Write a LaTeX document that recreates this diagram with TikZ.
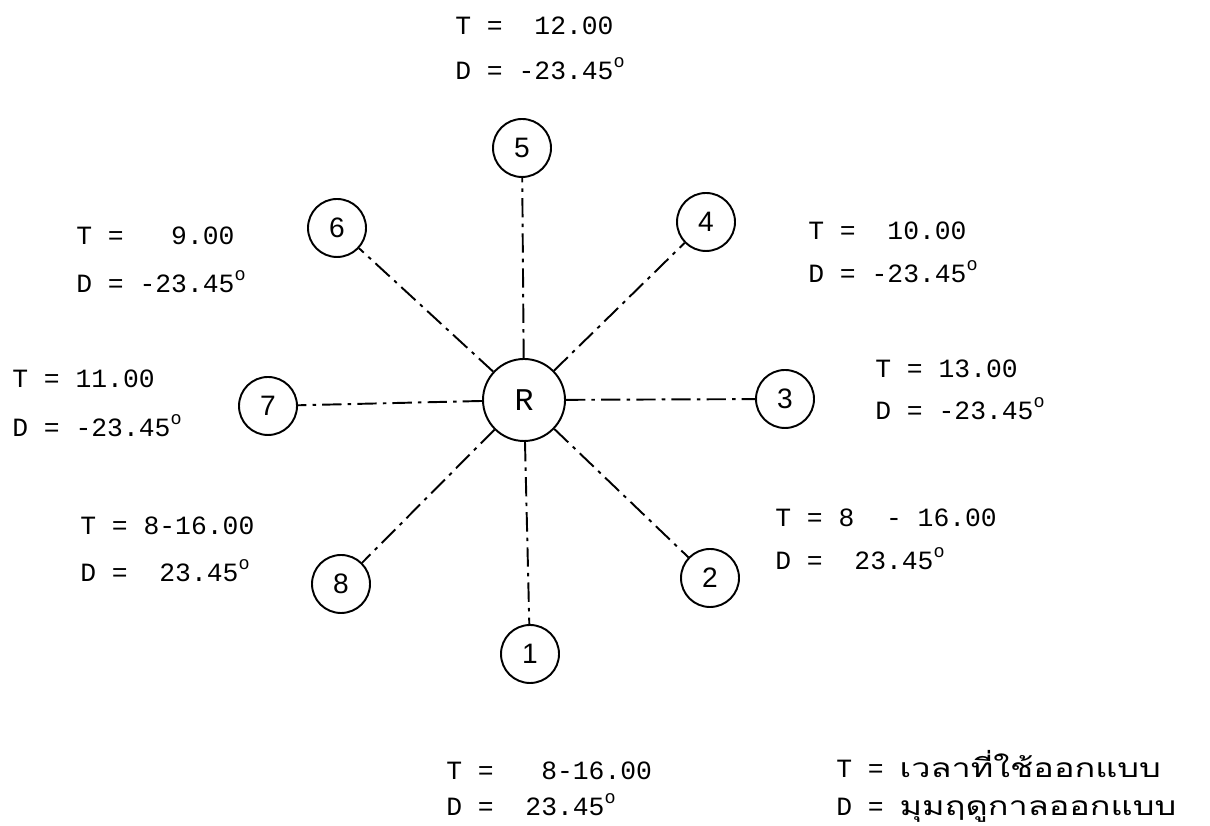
\documentclass[tikz,border=0pt]{standalone}
\usepackage{fontspec}
\setmonofont{Liberation Mono}
\newfontfamily\thaifont[Script=Thai,FakeStretch=1.3]{Loma}
\newfontfamily\numfont{Liberation Sans}
\usetikzlibrary{positioning}
\tikzset{
	stn/.style={draw, circle, line width=1.1pt, minimum size=1.16cm, inner sep=0pt, font=\numfont\fontsize{16}{16}\selectfont},
	hub/.style={stn, minimum size=1.64cm, font=\ttfamily\fontsize{18}{18}\selectfont},
	ray/.style={line width=1.1pt, dash pattern=on 11pt off 3.5pt on 2pt off 3.5pt},
	lbl/.style={anchor=base west, inner sep=0pt, font=\ttfamily\fontsize{15}{15}\selectfont}
}
\newcommand{\dg}{\raisebox{0.25ex}{\textsuperscript{o}}}

\begin{document}
\begin{tikzpicture}
	\useasboundingbox (0,0) rectangle (24.2,16.52);
	
	\node[hub] (R) at (10.48,8.52) {R};
	\node[stn] (n1) at (10.60,3.44) {1};
	\node[stn] (n2) at (14.20,4.96) {2};
	\node[stn] (n3) at (15.70,8.54) {3};
	\node[stn] (n4) at (14.12,12.08) {4};
	\node[stn] (n5) at (10.44,13.56) {5};
	\node[stn] (n6) at (6.74,11.96) {6};
	\node[stn] (n7) at (5.36,8.40) {7};
	\node[stn] (n8) at (6.82,4.84) {8};
	
	\foreach \n in {1,...,8}
		\draw[ray] (R) -- (n\n);
	
	\node[lbl] (t5) at (9.10,15.82) {T =~~12.00};
	\node[lbl] (d5) at (9.10,14.92) {D = -23.45\dg};
	\node[lbl] (t6) at (1.52,11.62) {T =~~~9.00};
	\node[lbl] (d6) at (1.52,10.66) {D = -23.45\dg};
	\node[lbl] (t7) at (0.24,8.76) {T = 11.00};
	\node[lbl] (d7) at (0.24,7.78) {D = -23.45\dg};
	\node[lbl] (t8) at (1.60,5.82) {T = 8-16.00};
	\node[lbl] (d8) at (1.60,4.88) {D =~~23.45\dg};
	\node[lbl] (t4) at (16.16,11.72) {T =~~10.00};
	\node[lbl] (d4) at (16.16,10.86) {D = -23.45\dg};
	\node[lbl] (t3) at (17.50,8.96) {T = 13.00};
	\node[lbl] (d3) at (17.50,8.12) {D = -23.45\dg};
	\node[lbl] (t2) at (15.50,5.98) {T = 8~~- 16.00};
	\node[lbl] (d2) at (15.50,5.12) {D =~~23.45\dg};
	\node[lbl] (t1) at (8.92,0.92) {T =~~~8-16.00};
	\node[lbl] (d1) at (8.92,0.20) {D =~~23.45\dg};
	
	\node[lbl] (tkey) at (16.72,0.96) {T = {\thaifont เวลาที่ใช้ออกแบบ}};
	\node[lbl] (dkey) at (16.72,0.20) {D = {\thaifont มุมฤดูกาลออกแบบ}};
\end{tikzpicture}
\end{document}
